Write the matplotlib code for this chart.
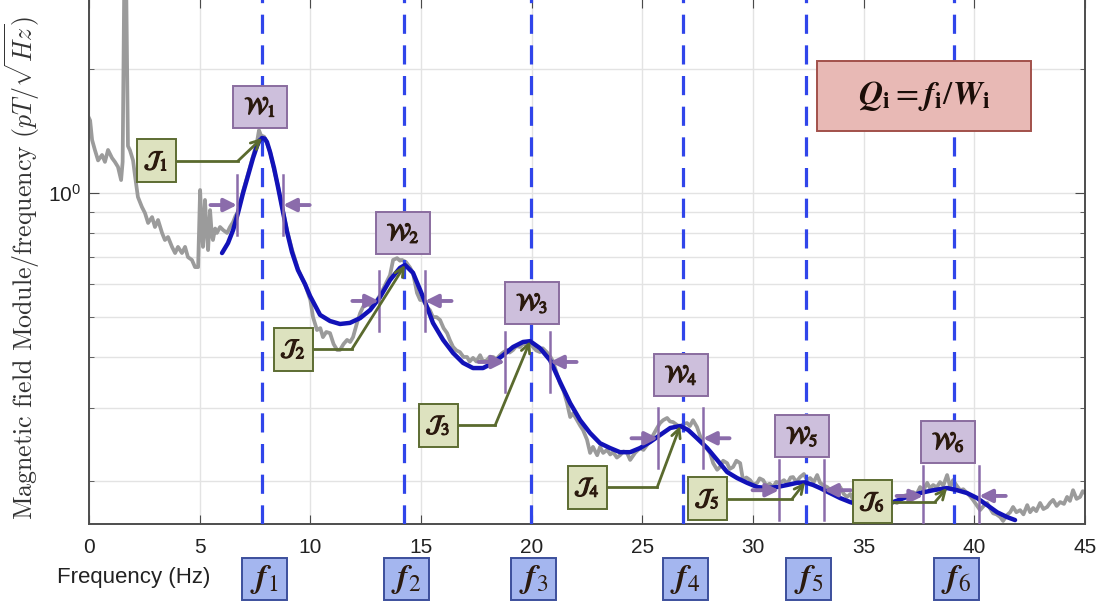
import numpy as np
import matplotlib.pyplot as plt
import matplotlib.patheffects as pe
from matplotlib.patches import Rectangle
from matplotlib.ticker import FixedLocator, NullFormatter, LogFormatterSciNotation
from matplotlib.transforms import blended_transform_factory, ScaledTranslation

plt.rcParams['font.family'] = ['Liberation Sans', 'DejaVu Sans']

# measured spectrum (grey)
spec_f = [0.00, 0.05, 0.14, 0.27, 0.41, 0.59, 0.72, 0.86, 1.04, 1.17, 1.31, 1.45, 1.52, 1.60, 1.67,
          1.76, 1.85, 1.99, 2.08, 2.21, 2.39, 2.53, 2.67, 2.85, 2.98, 3.12, 3.30, 3.43, 3.57, 3.75,
          3.89, 4.02, 4.20, 4.34, 4.47, 4.65, 4.79, 4.93, 5.02, 5.10, 5.15, 5.24, 5.32, 5.38, 5.47,
          5.55, 5.60, 5.70, 5.78, 5.92, 6.06, 6.24, 6.37, 6.51, 6.62,
          6.73, 6.96, 7.18, 7.41, 7.59, 7.68, 7.77, 7.91, 8.04, 8.18, 8.36, 8.54, 8.72, 8.95, 9.17,
          9.44, 9.60, 9.76, 9.90, 10.00,
          10.12, 10.30, 10.45, 10.57, 10.72, 10.89, 11.05, 11.21, 11.34, 11.50, 11.66, 11.80, 11.93,
          12.11, 12.25, 12.38, 12.56, 12.79, 13.01, 13.15, 13.38, 13.60, 13.74, 13.92, 14.05, 14.14,
          14.32, 14.50, 14.64, 14.82, 14.96, 15.09, 15.27, 15.40, 15.54, 15.70, 15.86, 16.02, 16.18,
          16.30, 16.45, 16.60, 16.76, 16.92, 17.08, 17.20, 17.35, 17.50, 17.67, 17.80, 17.98, 18.10,
          18.26, 18.40, 18.57, 18.70, 18.89, 19.00, 19.16, 19.30, 19.48, 19.60, 19.79, 19.93, 20.06,
          20.20, 20.38, 20.50, 20.70, 20.85, 20.97, 21.10, 21.28, 21.45, 21.60, 21.74, 21.87, 22.05,
          22.20, 22.32, 22.50, 22.64, 22.77, 22.96, 23.09, 23.23, 23.41, 23.55, 23.68, 23.85, 23.99,
          24.15, 24.31, 24.45, 24.67, 24.90, 25.05, 25.21, 25.35, 25.49, 25.65, 25.80, 25.94, 26.12,
          26.25, 26.39, 26.55, 26.71, 26.85, 27.02, 27.15, 27.29, 27.47, 27.60, 27.74, 27.90, 28.06,
          28.20, 28.38, 28.51, 28.65, 28.83, 28.95, 29.10, 29.25, 29.42, 29.55, 29.70, 29.87, 30.02,
          30.19, 30.30, 30.46, 30.60, 30.75, 30.91, 31.05, 31.22, 31.40, 31.55, 31.70, 31.81, 31.95,
          32.13, 32.30, 32.44, 32.58, 32.75, 32.90, 33.03, 33.20, 33.35, 33.50, 33.62, 33.78, 33.94,
          34.10, 34.25, 34.40, 34.52, 34.68, 34.84, 35.00, 35.15, 35.29, 35.45, 35.60, 35.74, 35.90,
          36.05, 36.20, 36.35, 36.51, 36.65, 36.80, 36.96, 37.10, 37.23, 37.40, 37.55, 37.70, 37.87,
          38.00, 38.14, 38.30, 38.45, 38.60, 38.77, 38.91, 39.04, 39.20, 39.36, 39.50, 39.67, 39.80,
          39.94, 40.10, 40.26, 40.42, 40.58, 40.70, 40.85, 41.00, 41.17, 41.30, 41.48, 41.62, 41.75,
          41.90, 42.07, 42.22, 42.39, 42.52, 42.66, 42.80, 42.97, 43.12, 43.29, 43.42, 43.56, 43.72,
          43.88, 44.05, 44.19, 44.32, 44.46, 44.62, 44.78, 44.90, 45.00]
spec_v = [1.52, 1.50, 1.345, 1.27, 1.20, 1.237, 1.19, 1.272, 1.216, 1.19, 1.157, 1.075, 1.19, 3.60, 3.60,
          1.30, 1.27, 1.20, 1.10, 0.978, 0.925, 0.894, 0.846, 0.874, 0.827, 0.860, 0.800, 0.769, 0.782, 0.740,
          0.715, 0.740, 0.715, 0.740, 0.699, 0.688, 0.661, 0.661, 1.017, 0.800, 0.740, 0.962, 0.800, 0.727, 0.909,
          0.790, 0.769, 0.820, 0.800, 0.827, 0.813, 0.800, 0.827, 0.850, 0.880,
          0.90, 1.01, 1.11, 1.23, 1.33, 1.42, 1.38, 1.37, 1.32, 1.26, 1.14, 1.04, 0.93, 0.81, 0.73,
          0.655, 0.625, 0.60, 0.57, 0.55,
          0.500, 0.465, 0.470, 0.447, 0.460, 0.457, 0.430, 0.416, 0.416, 0.430, 0.440, 0.435, 0.447,
          0.484, 0.511, 0.529, 0.541, 0.529, 0.550, 0.565, 0.598, 0.632, 0.688, 0.695, 0.685, 0.688,
          0.680, 0.660, 0.639, 0.572, 0.550, 0.550, 0.529, 0.520, 0.500, 0.500, 0.492, 0.470, 0.457,
          0.440, 0.423, 0.415, 0.411, 0.400, 0.400, 0.390, 0.398, 0.390, 0.404, 0.390, 0.393, 0.400,
          0.400, 0.395, 0.404, 0.410, 0.416, 0.410, 0.416, 0.425, 0.423, 0.430, 0.428, 0.432, 0.423,
          0.415, 0.411, 0.420, 0.410, 0.400, 0.390, 0.370, 0.345, 0.330, 0.309, 0.286, 0.292, 0.281,
          0.272, 0.266, 0.252, 0.234, 0.242, 0.231, 0.242, 0.234, 0.238, 0.232, 0.235, 0.228, 0.231,
          0.236, 0.234, 0.225, 0.234, 0.2405, 0.238, 0.2445, 0.250, 0.2586, 0.268, 0.2765, 0.281, 0.2845,
          0.279, 0.278, 0.274, 0.2705, 0.275, 0.2765, 0.272, 0.281, 0.2705, 0.258, 0.247, 0.240, 0.234,
          0.221, 0.213, 0.2163, 0.224, 0.221, 0.214, 0.2163, 0.224, 0.221, 0.201, 0.204, 0.201, 0.196,
          0.198, 0.203, 0.201, 0.195, 0.197, 0.1934, 0.199, 0.198, 0.201, 0.197, 0.204, 0.2045, 0.199,
          0.2045, 0.208, 0.201, 0.2034, 0.199, 0.2068, 0.198, 0.195, 0.1934, 0.190, 0.188, 0.192, 0.1934,
          0.186, 0.183, 0.186, 0.180, 0.184, 0.185, 0.178, 0.182, 0.1748, 0.179, 0.183, 0.1818, 0.176,
          0.180, 0.1748, 0.178, 0.1769, 0.180, 0.184, 0.185, 0.183, 0.188, 0.186, 0.1934, 0.190, 0.198,
          0.192, 0.1956, 0.193, 0.1988, 0.195, 0.2068, 0.1934, 0.201, 0.195, 0.190, 0.191, 0.187, 0.184,
          0.180, 0.175, 0.170, 0.174, 0.1769, 0.172, 0.167, 0.166, 0.1635, 0.160, 0.1654, 0.168, 0.173,
          0.168, 0.170, 0.166, 0.1748, 0.168, 0.172, 0.169, 0.1769, 0.171, 0.173, 0.177, 0.180, 0.174,
          0.1778, 0.176, 0.183, 0.179, 0.190, 0.181, 0.183, 0.189, 0.187]

# fitted curve (blue)
fit_f = [6.01, 6.28, 6.51, 6.73, 6.96, 7.18, 7.41, 7.59, 7.70, 7.82, 7.94, 8.04, 8.18, 8.36, 8.54,
         8.72, 8.95, 9.17, 9.44, 9.76, 9.99, 10.44, 10.89, 11.34, 11.79, 12.25, 12.70, 13.15, 13.60,
         14.05, 14.28, 14.64, 14.96, 15.27, 15.54, 16.00, 16.45, 16.90, 17.35, 17.80, 18.26, 18.71,
         19.16, 19.61, 19.93, 20.38, 20.83, 21.28, 21.74, 22.19, 22.64, 23.09, 23.54, 23.99, 24.45,
         24.90, 25.35, 25.80, 26.26, 26.71, 27.07, 27.47, 27.93, 28.38, 28.83, 29.28, 29.73, 30.19,
         30.64, 31.09, 31.54, 31.99, 32.35, 32.72, 33.03, 33.48, 33.94, 34.39, 34.84, 35.52, 36.33,
         36.96, 37.55, 38.14, 38.77, 39.22, 39.67, 40.13, 40.58, 41.03, 41.48, 41.84]
fit_v = [0.715, 0.756, 0.813, 0.894, 1.00, 1.10, 1.216, 1.30, 1.34, 1.36, 1.355, 1.33, 1.257, 1.15, 1.034,
         0.925, 0.804, 0.719, 0.650, 0.601, 0.562, 0.506, 0.489, 0.481, 0.484, 0.497, 0.520, 0.559, 0.615,
         0.658, 0.669, 0.640, 0.582, 0.529, 0.484, 0.440, 0.409, 0.387, 0.376, 0.376, 0.387, 0.404,
         0.423, 0.435, 0.437, 0.420, 0.393, 0.348, 0.309, 0.281, 0.2615, 0.247, 0.2405, 0.235, 0.235,
         0.2405, 0.2487, 0.2586, 0.269, 0.272, 0.266, 0.254, 0.2405, 0.225, 0.2103, 0.2034, 0.198, 0.1934,
         0.1923, 0.1934, 0.1956, 0.198, 0.1985, 0.1956, 0.1923, 0.187, 0.1818, 0.1778, 0.1748, 0.1740, 0.1778,
         0.183, 0.187, 0.190, 0.1923, 0.190, 0.187, 0.1818, 0.1748, 0.168, 0.1635, 0.1608]

# resonance frequencies and half-power bands
peak_f = [7.82, 14.23, 19.97, 26.84, 32.40, 39.09]
band_lo = [6.69, 13.10, 18.80, 25.71, 31.18, 37.69]
band_hi = [8.77, 15.18, 20.83, 27.74, 33.21, 40.22]
band_v = [0.935, 0.547, 0.389, 0.254, 0.190, 0.184]

# label placement
w_box = [(7.73, 1.62), (14.19, 0.80), (20.02, 0.541), (26.75, 0.362), (32.22, 0.257), (38.82, 0.249)]
j_box = [(3.03, 1.196), (9.22, 0.418), (15.77, 0.273), (22.50, 0.193), (27.93, 0.181), (35.38, 0.178)]
j_knee = [6.73, 11.88, 18.35, 25.67, 31.77, 38.23]

fig = plt.figure(figsize=(11.01, 6.06), dpi=100)
ax = fig.add_axes([89 / 1101, 82 / 606, 996 / 1101, 525 / 606])


def tag(x, y, text, w, h, fc, ec, size, base, **kw):
    # fixed-size box (w, h in pixels) centred on (x, y) in the given coordinates
    tr = fig.dpi_scale_trans + ScaledTranslation(x, y, base)
    ax.add_patch(Rectangle((-w / 200, -h / 200), w / 100, h / 100, transform=tr, fc=fc, ec=ec,
                           lw=1.4, zorder=8, clip_on=False))
    ax.text(x, y, text, transform=base, fontsize=size, ha='center', va='center',
            math_fontfamily='stix', zorder=9, clip_on=False, **kw)


ax.plot(spec_f, spec_v, color='#9b9b9b', lw=2.7, zorder=2, solid_joinstyle='round')
ax.plot(fit_f, fit_v, color='#1212b8', lw=3.2, zorder=4, solid_capstyle='round')

for f in peak_f:
    ax.axvline(f, color='#3045ea', lw=2.3, dashes=(6, 3.6), zorder=3)

ax.set_xlim(0, 45)
ax.set_yscale('log')
ax.set_ylim(0.1573, 2.957)
ax.set_xticks(np.arange(0, 46, 5))
ax.yaxis.set_major_locator(FixedLocator([1.0]))
ax.yaxis.set_minor_locator(FixedLocator([0.2, 0.3, 0.4, 0.5, 0.6, 0.7, 0.8, 0.9, 2.0]))
ax.yaxis.set_major_formatter(LogFormatterSciNotation())
ax.yaxis.set_minor_formatter(NullFormatter())
ax.grid(True, which='both', color='#e3e3e3', lw=1.0)
ax.set_axisbelow(True)
ax.tick_params(which='both', direction='in', top=True, right=True, colors='#4a4a4a',
               labelcolor='#222222', labelsize=15)
ax.tick_params(axis='x', length=6.5, pad=10)
ax.tick_params(axis='y', which='major', length=7, pad=6)
ax.tick_params(axis='y', which='minor', length=3.5)
for s in ax.spines.values():
    s.set_color('#4d4d4d')
    s.set_linewidth(1.4)

fig.text(57 / 1101, 1 - 578 / 606, 'Frequency (Hz)', fontsize=16, color='#222222',
         ha='left', va='center')
fig.text(22 / 1101, 1 - 268 / 606, r'Magnetic field Module/frequency $(pT/\sqrt{Hz})$',
         rotation=90, ha='center', va='center', fontsize=18.6, color='#333333',
         family='cmr10', math_fontfamily='cm')

ink = '#2b1a0e'
bold = [pe.withStroke(linewidth=0.9, foreground=ink)]

# half-power width markers
purple = '#8b6cab'
for lo, hi, lv in zip(band_lo, band_hi, band_v):
    for x, d in ((lo, -1.2), (hi, 1.2)):
        ax.plot([x, x], [lv * 10 ** -0.073, lv * 10 ** 0.073], color=purple, lw=1.8, zorder=6)
        ax.annotate('', xy=(x, lv), xytext=(x + d, lv),
                    arrowprops=dict(arrowstyle='-|>', color=purple, lw=2.8,
                                    mutation_scale=19, shrinkA=0, shrinkB=0), zorder=6)

# W labels
for i, (x, y) in enumerate(w_box):
    tag(x, y, r'$\mathcal{W}_{%d}$' % (i + 1), 54, 42, '#cdbfdc', '#8a6c9f', 17, ax.transData,
        color=ink, path_effects=bold)

# J labels with arrows to each fitted maximum
fit_f_arr = np.array(fit_f)
fit_v_arr = np.array(fit_v)
green = '#5a6a2e'
for i, ((x, y), knee) in enumerate(zip(j_box, j_knee)):
    sel = (fit_f_arr >= band_lo[i]) & (fit_f_arr <= band_hi[i])
    k = np.argmax(np.where(sel, fit_v_arr, 0))
    tip = (fit_f_arr[k], fit_v_arr[k])
    ax.plot([x, knee], [y, y], color=green, lw=2.0, zorder=7)
    ax.annotate('', xy=tip, xytext=(knee, y),
                arrowprops=dict(arrowstyle='->', color=green, lw=2.0, mutation_scale=16,
                                shrinkA=0, shrinkB=0), zorder=7)
    tag(x, y, r'$\mathcal{J}_{%d}$' % (i + 1), 39, 43, '#dde2bf', '#5d6c32', 17, ax.transData,
        color=ink, path_effects=bold)

# resonance frequency tags under the axis
trans = blended_transform_factory(ax.transData, ax.transAxes)
for i, f in enumerate(peak_f):
    tag(f + 0.1, -0.105, r'$\mathbfit{f}_{%d}$' % (i + 1), 45, 42, '#a4b6ef', '#3c4f9c', 24, trans,
        color=ink)

tag(0.838, 0.815, r'$\mathbfit{Q}_{\mathbf{i}}=\mathbfit{f}_{\mathbf{i}}/\mathbfit{W}_{\mathbf{i}}$',
    214, 70, '#e8b9b5', '#a2514b', 24, ax.transAxes, color='#1a0d08')

fig.savefig('out.png', dpi=100)
